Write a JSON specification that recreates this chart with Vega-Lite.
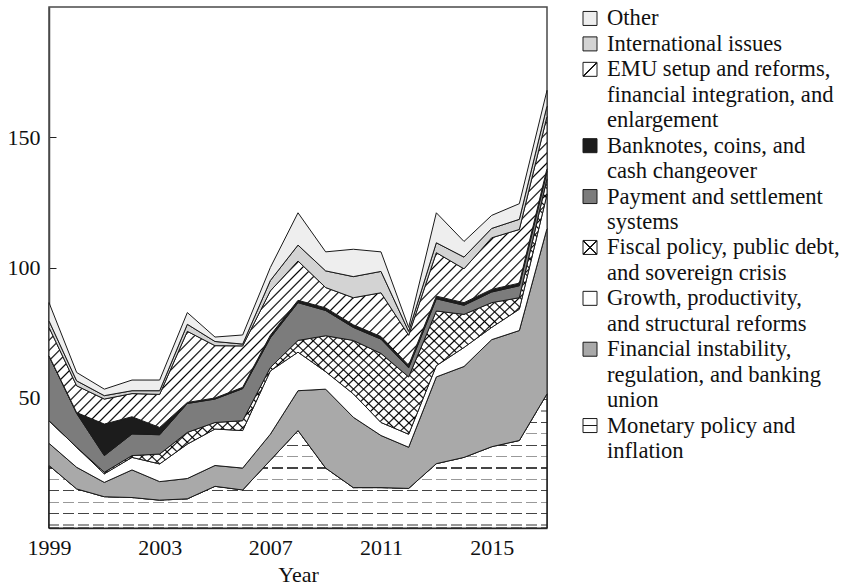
{
"$schema": "https://vega.github.io/schema/vega-lite/v6.json",
"padding": {"left": 6, "top": 6, "right": 5, "bottom": 4},
"datasets": {
"topics": [
{"year":1999,"topic":"Monetary","value":24},{"year":1999,"topic":"Financial","value":8.5},{"year":1999,"topic":"Growth","value":8.7},{"year":1999,"topic":"Fiscal","value":0},{"year":1999,"topic":"Payment","value":24.9},{"year":1999,"topic":"Banknotes","value":0},{"year":1999,"topic":"EMU","value":10.9},{"year":1999,"topic":"International","value":2.5},{"year":1999,"topic":"Other","value":7},
{"year":2000,"topic":"Monetary","value":15},{"year":2000,"topic":"Financial","value":8.3},{"year":2000,"topic":"Growth","value":7.7},{"year":2000,"topic":"Fiscal","value":0},{"year":2000,"topic":"Payment","value":13},{"year":2000,"topic":"Banknotes","value":0.3},{"year":2000,"topic":"EMU","value":10.3},{"year":2000,"topic":"International","value":1.9},{"year":2000,"topic":"Other","value":3.2},
{"year":2001,"topic":"Monetary","value":12},{"year":2001,"topic":"Financial","value":5.5},{"year":2001,"topic":"Growth","value":3.3},{"year":2001,"topic":"Fiscal","value":0.6},{"year":2001,"topic":"Payment","value":6.4},{"year":2001,"topic":"Banknotes","value":12.1},{"year":2001,"topic":"EMU","value":9.6},{"year":2001,"topic":"International","value":1.3},{"year":2001,"topic":"Other","value":2.5},
{"year":2002,"topic":"Monetary","value":11.7},{"year":2002,"topic":"Financial","value":10.6},{"year":2002,"topic":"Growth","value":4.8},{"year":2002,"topic":"Fiscal","value":0.7},{"year":2002,"topic":"Payment","value":8.3},{"year":2002,"topic":"Banknotes","value":6.6},{"year":2002,"topic":"EMU","value":8.9},{"year":2002,"topic":"International","value":1.1},{"year":2002,"topic":"Other","value":4.1},
{"year":2003,"topic":"Monetary","value":10.7},{"year":2003,"topic":"Financial","value":7.1},{"year":2003,"topic":"Growth","value":6.8},{"year":2003,"topic":"Fiscal","value":3.8},{"year":2003,"topic":"Payment","value":7.4},{"year":2003,"topic":"Banknotes","value":2.8},{"year":2003,"topic":"EMU","value":12.7},{"year":2003,"topic":"International","value":1.4},{"year":2003,"topic":"Other","value":4.1},
{"year":2004,"topic":"Monetary","value":11.2},{"year":2004,"topic":"Financial","value":7.8},{"year":2004,"topic":"Growth","value":13.2},{"year":2004,"topic":"Fiscal","value":4.5},{"year":2004,"topic":"Payment","value":11.1},{"year":2004,"topic":"Banknotes","value":0.4},{"year":2004,"topic":"EMU","value":27.3},{"year":2004,"topic":"International","value":2.7},{"year":2004,"topic":"Other","value":4.5},
{"year":2005,"topic":"Monetary","value":16},{"year":2005,"topic":"Financial","value":8},{"year":2005,"topic":"Growth","value":14},{"year":2005,"topic":"Fiscal","value":2.5},{"year":2005,"topic":"Payment","value":9},{"year":2005,"topic":"Banknotes","value":0.4},{"year":2005,"topic":"EMU","value":20.1},{"year":2005,"topic":"International","value":1.6},{"year":2005,"topic":"Other","value":1.7},
{"year":2006,"topic":"Monetary","value":14.6},{"year":2006,"topic":"Financial","value":8.4},{"year":2006,"topic":"Growth","value":14.4},{"year":2006,"topic":"Fiscal","value":3.8},{"year":2006,"topic":"Payment","value":12.3},{"year":2006,"topic":"Banknotes","value":0.5},{"year":2006,"topic":"EMU","value":15.9},{"year":2006,"topic":"International","value":0.7},{"year":2006,"topic":"Other","value":3.5},
{"year":2007,"topic":"Monetary","value":26},{"year":2007,"topic":"Financial","value":10},{"year":2007,"topic":"Growth","value":24.3},{"year":2007,"topic":"Fiscal","value":1.3},{"year":2007,"topic":"Payment","value":11.4},{"year":2007,"topic":"Banknotes","value":1},{"year":2007,"topic":"EMU","value":17},{"year":2007,"topic":"International","value":4},{"year":2007,"topic":"Other","value":5},
{"year":2008,"topic":"Monetary","value":37.4},{"year":2008,"topic":"Financial","value":15.3},{"year":2008,"topic":"Growth","value":14.8},{"year":2008,"topic":"Fiscal","value":4.5},{"year":2008,"topic":"Payment","value":14.5},{"year":2008,"topic":"Banknotes","value":0.9},{"year":2008,"topic":"EMU","value":15.1},{"year":2008,"topic":"International","value":6.1},{"year":2008,"topic":"Other","value":12.4},
{"year":2009,"topic":"Monetary","value":23},{"year":2009,"topic":"Financial","value":30.3},{"year":2009,"topic":"Growth","value":6.7},{"year":2009,"topic":"Fiscal","value":13.8},{"year":2009,"topic":"Payment","value":9.7},{"year":2009,"topic":"Banknotes","value":1},{"year":2009,"topic":"EMU","value":7.8},{"year":2009,"topic":"International","value":6.4},{"year":2009,"topic":"Other","value":7.3},
{"year":2010,"topic":"Monetary","value":15.5},{"year":2010,"topic":"Financial","value":27},{"year":2010,"topic":"Growth","value":9},{"year":2010,"topic":"Fiscal","value":20.5},{"year":2010,"topic":"Payment","value":5},{"year":2010,"topic":"Banknotes","value":1},{"year":2010,"topic":"EMU","value":10.4},{"year":2010,"topic":"International","value":8.1},{"year":2010,"topic":"Other","value":10.5},
{"year":2011,"topic":"Monetary","value":15.5},{"year":2011,"topic":"Financial","value":20},{"year":2011,"topic":"Growth","value":5},{"year":2011,"topic":"Fiscal","value":26.5},{"year":2011,"topic":"Payment","value":5.5},{"year":2011,"topic":"Banknotes","value":1},{"year":2011,"topic":"EMU","value":16.8},{"year":2011,"topic":"International","value":8.2},{"year":2011,"topic":"Other","value":7.5},
{"year":2012,"topic":"Monetary","value":15.2},{"year":2012,"topic":"Financial","value":15.8},{"year":2012,"topic":"Growth","value":5},{"year":2012,"topic":"Fiscal","value":22},{"year":2012,"topic":"Payment","value":3.5},{"year":2012,"topic":"Banknotes","value":1},{"year":2012,"topic":"EMU","value":11.5},{"year":2012,"topic":"International","value":1.5},{"year":2012,"topic":"Other","value":1.5},
{"year":2013,"topic":"Monetary","value":24.7},{"year":2013,"topic":"Financial","value":33.3},{"year":2013,"topic":"Growth","value":4.3},{"year":2013,"topic":"Fiscal","value":21},{"year":2013,"topic":"Payment","value":4.7},{"year":2013,"topic":"Banknotes","value":1},{"year":2013,"topic":"EMU","value":16.7},{"year":2013,"topic":"International","value":3.8},{"year":2013,"topic":"Other","value":11.5},
{"year":2014,"topic":"Monetary","value":27.1},{"year":2014,"topic":"Financial","value":34.9},{"year":2014,"topic":"Growth","value":7.3},{"year":2014,"topic":"Fiscal","value":12.7},{"year":2014,"topic":"Payment","value":3.5},{"year":2014,"topic":"Banknotes","value":1},{"year":2014,"topic":"EMU","value":13},{"year":2014,"topic":"International","value":4.5},{"year":2014,"topic":"Other","value":6},
{"year":2015,"topic":"Monetary","value":31.2},{"year":2015,"topic":"Financial","value":41.1},{"year":2015,"topic":"Growth","value":4.7},{"year":2015,"topic":"Fiscal","value":9.5},{"year":2015,"topic":"Payment","value":4.1},{"year":2015,"topic":"Banknotes","value":1},{"year":2015,"topic":"EMU","value":19.8},{"year":2015,"topic":"International","value":3.6},{"year":2015,"topic":"Other","value":5},
{"year":2016,"topic":"Monetary","value":33.6},{"year":2016,"topic":"Financial","value":42.2},{"year":2016,"topic":"Growth","value":8.2},{"year":2016,"topic":"Fiscal","value":4.4},{"year":2016,"topic":"Payment","value":4.6},{"year":2016,"topic":"Banknotes","value":1},{"year":2016,"topic":"EMU","value":20.6},{"year":2016,"topic":"International","value":3.9},{"year":2016,"topic":"Other","value":6},
{"year":2017,"topic":"Monetary","value":51.5},{"year":2017,"topic":"Financial","value":63.5},{"year":2017,"topic":"Growth","value":13},{"year":2017,"topic":"Fiscal","value":6},{"year":2017,"topic":"Payment","value":3},{"year":2017,"topic":"Banknotes","value":1},{"year":2017,"topic":"EMU","value":20},{"year":2017,"topic":"International","value":4},{"year":2017,"topic":"Other","value":6}
],
"legend": [
{"topic":"Other","text":"Other"},
{"topic":"International","text":"International issues"},
{"topic":"EMU","text":"EMU setup and reforms,"},
{"topic":"EMU","text":"financial integration, and"},
{"topic":"EMU","text":"enlargement"},
{"topic":"Banknotes","text":"Banknotes, coins, and"},
{"topic":"Banknotes","text":"cash changeover"},
{"topic":"Payment","text":"Payment and settlement"},
{"topic":"Payment","text":"systems"},
{"topic":"Fiscal","text":"Fiscal policy, public debt,"},
{"topic":"Fiscal","text":"and sovereign crisis"},
{"topic":"Growth","text":"Growth, productivity,"},
{"topic":"Growth","text":"and structural reforms"},
{"topic":"Financial","text":"Financial instability,"},
{"topic":"Financial","text":"regulation, and banking"},
{"topic":"Financial","text":"union"},
{"topic":"Monetary","text":"Monetary policy and"},
{"topic":"Monetary","text":"inflation"}
]
},
"hconcat": [
{
"width": 498, "height": 521,
"data": {"name": "topics"},
"transform": [
{"calculate": "indexof(['Monetary','Financial','Growth','Fiscal','Payment','Banknotes','EMU','International','Other'], datum.topic)", "as": "k"},
{"stack": "value", "groupby": ["year"], "sort": [{"field": "k", "order": "ascending"}], "as": ["v0", "v1"]}
],
"encoding": {
"x": {"field": "year", "type": "quantitative", "scale": {"domain": [1999, 2017], "nice": false, "zero": false},
 "axis": {"values": [1999, 2003, 2007, 2011, 2015], "format": "d", "title": "Year", "tickSize": -7, "labelPadding": 16, "titlePadding": 6, "labelFlush": false}},
"y": {"field": "v1", "type": "quantitative", "scale": {"domain": [0, 200], "nice": false},
 "axis": {"values": [50, 100, 150], "title": null, "tickSize": -7, "labelPadding": 16}},
"y2": {"field": "v0"}
},
"layer": [
{"transform": [{"filter": "datum.topic === 'Monetary'"}], "mark": {"type": "area", "stroke": "#1a1a1a", "strokeWidth": 1,
"fill": {"gradient": "linear", "x1": 0, "y1": 0, "x2": 0, "y2": 1, "stops": [
{"offset":0,"color":"#fff"},
{"offset":0.038,"color":"#fff"},{"offset":0.038,"color":"#444"},{"offset":0.047,"color":"#444"},{"offset":0.047,"color":"#fff"},
{"offset":0.123,"color":"#fff"},{"offset":0.123,"color":"#999"},{"offset":0.132,"color":"#999"},{"offset":0.132,"color":"#fff"},
{"offset":0.208,"color":"#fff"},{"offset":0.208,"color":"#444"},{"offset":0.217,"color":"#444"},{"offset":0.217,"color":"#fff"},
{"offset":0.293,"color":"#fff"},{"offset":0.293,"color":"#999"},{"offset":0.302,"color":"#999"},{"offset":0.302,"color":"#fff"},
{"offset":0.378,"color":"#fff"},{"offset":0.378,"color":"#444"},{"offset":0.387,"color":"#444"},{"offset":0.387,"color":"#fff"},
{"offset":0.463,"color":"#fff"},{"offset":0.463,"color":"#999"},{"offset":0.472,"color":"#999"},{"offset":0.472,"color":"#fff"},
{"offset":0.548,"color":"#fff"},{"offset":0.548,"color":"#444"},{"offset":0.557,"color":"#444"},{"offset":0.557,"color":"#fff"},
{"offset":0.633,"color":"#fff"},{"offset":0.633,"color":"#999"},{"offset":0.642,"color":"#999"},{"offset":0.642,"color":"#fff"},
{"offset":0.718,"color":"#fff"},{"offset":0.718,"color":"#444"},{"offset":0.727,"color":"#444"},{"offset":0.727,"color":"#fff"},
{"offset":0.803,"color":"#fff"},{"offset":0.803,"color":"#999"},{"offset":0.812,"color":"#999"},{"offset":0.812,"color":"#fff"},
{"offset":0.888,"color":"#fff"},{"offset":0.888,"color":"#444"},{"offset":0.897,"color":"#444"},{"offset":0.897,"color":"#fff"},
{"offset":0.973,"color":"#fff"},{"offset":0.973,"color":"#999"},{"offset":0.982,"color":"#999"},{"offset":0.982,"color":"#fff"},
{"offset":1,"color":"#fff"}
]}}},
{"transform": [{"filter": "datum.topic === 'Monetary'"}], "mark": {"type": "area", "stroke": "#1a1a1a", "strokeWidth": 1,
"fill": {"gradient": "linear", "x1": 0, "y1": 0, "x2": 1, "y2": 0, "stops": [
{"offset":0,"color":"rgba(0,0,0,0)"},
{"offset":0.02,"color":"rgba(0,0,0,0)"},{"offset":0.02,"color":"#fff"},{"offset":0.028,"color":"#fff"},{"offset":0.028,"color":"rgba(0,0,0,0)"},
{"offset":0.05,"color":"rgba(0,0,0,0)"},{"offset":0.05,"color":"#fff"},{"offset":0.058,"color":"#fff"},{"offset":0.058,"color":"rgba(0,0,0,0)"},
{"offset":0.08,"color":"rgba(0,0,0,0)"},{"offset":0.08,"color":"#fff"},{"offset":0.088,"color":"#fff"},{"offset":0.088,"color":"rgba(0,0,0,0)"},
{"offset":0.11,"color":"rgba(0,0,0,0)"},{"offset":0.11,"color":"#fff"},{"offset":0.118,"color":"#fff"},{"offset":0.118,"color":"rgba(0,0,0,0)"},
{"offset":0.14,"color":"rgba(0,0,0,0)"},{"offset":0.14,"color":"#fff"},{"offset":0.148,"color":"#fff"},{"offset":0.148,"color":"rgba(0,0,0,0)"},
{"offset":0.17,"color":"rgba(0,0,0,0)"},{"offset":0.17,"color":"#fff"},{"offset":0.178,"color":"#fff"},{"offset":0.178,"color":"rgba(0,0,0,0)"},
{"offset":0.2,"color":"rgba(0,0,0,0)"},{"offset":0.2,"color":"#fff"},{"offset":0.208,"color":"#fff"},{"offset":0.208,"color":"rgba(0,0,0,0)"},
{"offset":0.23,"color":"rgba(0,0,0,0)"},{"offset":0.23,"color":"#fff"},{"offset":0.238,"color":"#fff"},{"offset":0.238,"color":"rgba(0,0,0,0)"},
{"offset":0.26,"color":"rgba(0,0,0,0)"},{"offset":0.26,"color":"#fff"},{"offset":0.268,"color":"#fff"},{"offset":0.268,"color":"rgba(0,0,0,0)"},
{"offset":0.29,"color":"rgba(0,0,0,0)"},{"offset":0.29,"color":"#fff"},{"offset":0.298,"color":"#fff"},{"offset":0.298,"color":"rgba(0,0,0,0)"},
{"offset":0.32,"color":"rgba(0,0,0,0)"},{"offset":0.32,"color":"#fff"},{"offset":0.328,"color":"#fff"},{"offset":0.328,"color":"rgba(0,0,0,0)"},
{"offset":0.35,"color":"rgba(0,0,0,0)"},{"offset":0.35,"color":"#fff"},{"offset":0.358,"color":"#fff"},{"offset":0.358,"color":"rgba(0,0,0,0)"},
{"offset":0.38,"color":"rgba(0,0,0,0)"},{"offset":0.38,"color":"#fff"},{"offset":0.388,"color":"#fff"},{"offset":0.388,"color":"rgba(0,0,0,0)"},
{"offset":0.41,"color":"rgba(0,0,0,0)"},{"offset":0.41,"color":"#fff"},{"offset":0.418,"color":"#fff"},{"offset":0.418,"color":"rgba(0,0,0,0)"},
{"offset":0.44,"color":"rgba(0,0,0,0)"},{"offset":0.44,"color":"#fff"},{"offset":0.448,"color":"#fff"},{"offset":0.448,"color":"rgba(0,0,0,0)"},
{"offset":0.47,"color":"rgba(0,0,0,0)"},{"offset":0.47,"color":"#fff"},{"offset":0.478,"color":"#fff"},{"offset":0.478,"color":"rgba(0,0,0,0)"},
{"offset":0.5,"color":"rgba(0,0,0,0)"},{"offset":0.5,"color":"#fff"},{"offset":0.508,"color":"#fff"},{"offset":0.508,"color":"rgba(0,0,0,0)"},
{"offset":0.53,"color":"rgba(0,0,0,0)"},{"offset":0.53,"color":"#fff"},{"offset":0.538,"color":"#fff"},{"offset":0.538,"color":"rgba(0,0,0,0)"},
{"offset":0.56,"color":"rgba(0,0,0,0)"},{"offset":0.56,"color":"#fff"},{"offset":0.568,"color":"#fff"},{"offset":0.568,"color":"rgba(0,0,0,0)"},
{"offset":0.59,"color":"rgba(0,0,0,0)"},{"offset":0.59,"color":"#fff"},{"offset":0.598,"color":"#fff"},{"offset":0.598,"color":"rgba(0,0,0,0)"},
{"offset":0.62,"color":"rgba(0,0,0,0)"},{"offset":0.62,"color":"#fff"},{"offset":0.628,"color":"#fff"},{"offset":0.628,"color":"rgba(0,0,0,0)"},
{"offset":0.65,"color":"rgba(0,0,0,0)"},{"offset":0.65,"color":"#fff"},{"offset":0.658,"color":"#fff"},{"offset":0.658,"color":"rgba(0,0,0,0)"},
{"offset":0.68,"color":"rgba(0,0,0,0)"},{"offset":0.68,"color":"#fff"},{"offset":0.688,"color":"#fff"},{"offset":0.688,"color":"rgba(0,0,0,0)"},
{"offset":0.71,"color":"rgba(0,0,0,0)"},{"offset":0.71,"color":"#fff"},{"offset":0.718,"color":"#fff"},{"offset":0.718,"color":"rgba(0,0,0,0)"},
{"offset":0.74,"color":"rgba(0,0,0,0)"},{"offset":0.74,"color":"#fff"},{"offset":0.748,"color":"#fff"},{"offset":0.748,"color":"rgba(0,0,0,0)"},
{"offset":0.77,"color":"rgba(0,0,0,0)"},{"offset":0.77,"color":"#fff"},{"offset":0.778,"color":"#fff"},{"offset":0.778,"color":"rgba(0,0,0,0)"},
{"offset":0.8,"color":"rgba(0,0,0,0)"},{"offset":0.8,"color":"#fff"},{"offset":0.808,"color":"#fff"},{"offset":0.808,"color":"rgba(0,0,0,0)"},
{"offset":0.83,"color":"rgba(0,0,0,0)"},{"offset":0.83,"color":"#fff"},{"offset":0.838,"color":"#fff"},{"offset":0.838,"color":"rgba(0,0,0,0)"},
{"offset":0.86,"color":"rgba(0,0,0,0)"},{"offset":0.86,"color":"#fff"},{"offset":0.868,"color":"#fff"},{"offset":0.868,"color":"rgba(0,0,0,0)"},
{"offset":0.89,"color":"rgba(0,0,0,0)"},{"offset":0.89,"color":"#fff"},{"offset":0.898,"color":"#fff"},{"offset":0.898,"color":"rgba(0,0,0,0)"},
{"offset":0.92,"color":"rgba(0,0,0,0)"},{"offset":0.92,"color":"#fff"},{"offset":0.928,"color":"#fff"},{"offset":0.928,"color":"rgba(0,0,0,0)"},
{"offset":0.95,"color":"rgba(0,0,0,0)"},{"offset":0.95,"color":"#fff"},{"offset":0.958,"color":"#fff"},{"offset":0.958,"color":"rgba(0,0,0,0)"},
{"offset":0.98,"color":"rgba(0,0,0,0)"},{"offset":0.98,"color":"#fff"},{"offset":0.988,"color":"#fff"},{"offset":0.988,"color":"rgba(0,0,0,0)"},
{"offset":1,"color":"rgba(0,0,0,0)"}
]}}},
{"transform": [{"filter": "datum.topic === 'Financial'"}], "mark": {"type": "area", "fill": "#a9a9a9", "stroke": "#1a1a1a", "strokeWidth": 1}},
{"transform": [{"filter": "datum.topic === 'Growth'"}], "mark": {"type": "area", "fill": "#ffffff", "stroke": "#1a1a1a", "strokeWidth": 1}},
{"transform": [{"filter": "datum.topic === 'Fiscal'"}], "mark": {"type": "area", "strokeWidth": 0,
"fill": {"gradient": "linear", "x1": 0, "y1": 0, "x2": 1.171, "y2": 0.724, "stops": [
{"offset":0,"color":"#fff"},
{"offset":0.0105,"color":"#fff"},{"offset":0.0125,"color":"#000"},{"offset":0.0145,"color":"#fff"},
{"offset":0.023,"color":"#fff"},{"offset":0.025,"color":"#000"},{"offset":0.027,"color":"#fff"},
{"offset":0.0355,"color":"#fff"},{"offset":0.0375,"color":"#000"},{"offset":0.0395,"color":"#fff"},
{"offset":0.048,"color":"#fff"},{"offset":0.05,"color":"#000"},{"offset":0.052,"color":"#fff"},
{"offset":0.0605,"color":"#fff"},{"offset":0.0625,"color":"#000"},{"offset":0.0645,"color":"#fff"},
{"offset":0.073,"color":"#fff"},{"offset":0.075,"color":"#000"},{"offset":0.077,"color":"#fff"},
{"offset":0.0855,"color":"#fff"},{"offset":0.0875,"color":"#000"},{"offset":0.0895,"color":"#fff"},
{"offset":0.098,"color":"#fff"},{"offset":0.1,"color":"#000"},{"offset":0.102,"color":"#fff"},
{"offset":0.1105,"color":"#fff"},{"offset":0.1125,"color":"#000"},{"offset":0.1145,"color":"#fff"},
{"offset":0.123,"color":"#fff"},{"offset":0.125,"color":"#000"},{"offset":0.127,"color":"#fff"},
{"offset":0.1355,"color":"#fff"},{"offset":0.1375,"color":"#000"},{"offset":0.1395,"color":"#fff"},
{"offset":0.148,"color":"#fff"},{"offset":0.15,"color":"#000"},{"offset":0.152,"color":"#fff"},
{"offset":0.1605,"color":"#fff"},{"offset":0.1625,"color":"#000"},{"offset":0.1645,"color":"#fff"},
{"offset":0.173,"color":"#fff"},{"offset":0.175,"color":"#000"},{"offset":0.177,"color":"#fff"},
{"offset":0.1855,"color":"#fff"},{"offset":0.1875,"color":"#000"},{"offset":0.1895,"color":"#fff"},
{"offset":0.198,"color":"#fff"},{"offset":0.2,"color":"#000"},{"offset":0.202,"color":"#fff"},
{"offset":0.2105,"color":"#fff"},{"offset":0.2125,"color":"#000"},{"offset":0.2145,"color":"#fff"},
{"offset":0.223,"color":"#fff"},{"offset":0.225,"color":"#000"},{"offset":0.227,"color":"#fff"},
{"offset":0.2355,"color":"#fff"},{"offset":0.2375,"color":"#000"},{"offset":0.2395,"color":"#fff"},
{"offset":0.248,"color":"#fff"},{"offset":0.25,"color":"#000"},{"offset":0.252,"color":"#fff"},
{"offset":0.2605,"color":"#fff"},{"offset":0.2625,"color":"#000"},{"offset":0.2645,"color":"#fff"},
{"offset":0.273,"color":"#fff"},{"offset":0.275,"color":"#000"},{"offset":0.277,"color":"#fff"},
{"offset":0.2855,"color":"#fff"},{"offset":0.2875,"color":"#000"},{"offset":0.2895,"color":"#fff"},
{"offset":0.298,"color":"#fff"},{"offset":0.3,"color":"#000"},{"offset":0.302,"color":"#fff"},
{"offset":0.3105,"color":"#fff"},{"offset":0.3125,"color":"#000"},{"offset":0.3145,"color":"#fff"},
{"offset":0.323,"color":"#fff"},{"offset":0.325,"color":"#000"},{"offset":0.327,"color":"#fff"},
{"offset":0.3355,"color":"#fff"},{"offset":0.3375,"color":"#000"},{"offset":0.3395,"color":"#fff"},
{"offset":0.348,"color":"#fff"},{"offset":0.35,"color":"#000"},{"offset":0.352,"color":"#fff"},
{"offset":0.3605,"color":"#fff"},{"offset":0.3625,"color":"#000"},{"offset":0.3645,"color":"#fff"},
{"offset":0.373,"color":"#fff"},{"offset":0.375,"color":"#000"},{"offset":0.377,"color":"#fff"},
{"offset":0.3855,"color":"#fff"},{"offset":0.3875,"color":"#000"},{"offset":0.3895,"color":"#fff"},
{"offset":0.398,"color":"#fff"},{"offset":0.4,"color":"#000"},{"offset":0.402,"color":"#fff"},
{"offset":0.4105,"color":"#fff"},{"offset":0.4125,"color":"#000"},{"offset":0.4145,"color":"#fff"},
{"offset":0.423,"color":"#fff"},{"offset":0.425,"color":"#000"},{"offset":0.427,"color":"#fff"},
{"offset":0.4355,"color":"#fff"},{"offset":0.4375,"color":"#000"},{"offset":0.4395,"color":"#fff"},
{"offset":0.448,"color":"#fff"},{"offset":0.45,"color":"#000"},{"offset":0.452,"color":"#fff"},
{"offset":0.4605,"color":"#fff"},{"offset":0.4625,"color":"#000"},{"offset":0.4645,"color":"#fff"},
{"offset":0.473,"color":"#fff"},{"offset":0.475,"color":"#000"},{"offset":0.477,"color":"#fff"},
{"offset":0.4855,"color":"#fff"},{"offset":0.4875,"color":"#000"},{"offset":0.4895,"color":"#fff"},
{"offset":0.498,"color":"#fff"},{"offset":0.5,"color":"#000"},{"offset":0.502,"color":"#fff"},
{"offset":0.5105,"color":"#fff"},{"offset":0.5125,"color":"#000"},{"offset":0.5145,"color":"#fff"},
{"offset":0.523,"color":"#fff"},{"offset":0.525,"color":"#000"},{"offset":0.527,"color":"#fff"},
{"offset":0.5355,"color":"#fff"},{"offset":0.5375,"color":"#000"},{"offset":0.5395,"color":"#fff"},
{"offset":0.548,"color":"#fff"},{"offset":0.55,"color":"#000"},{"offset":0.552,"color":"#fff"},
{"offset":0.5605,"color":"#fff"},{"offset":0.5625,"color":"#000"},{"offset":0.5645,"color":"#fff"},
{"offset":0.573,"color":"#fff"},{"offset":0.575,"color":"#000"},{"offset":0.577,"color":"#fff"},
{"offset":0.5855,"color":"#fff"},{"offset":0.5875,"color":"#000"},{"offset":0.5895,"color":"#fff"},
{"offset":0.598,"color":"#fff"},{"offset":0.6,"color":"#000"},{"offset":0.602,"color":"#fff"},
{"offset":0.6105,"color":"#fff"},{"offset":0.6125,"color":"#000"},{"offset":0.6145,"color":"#fff"},
{"offset":0.623,"color":"#fff"},{"offset":0.625,"color":"#000"},{"offset":0.627,"color":"#fff"},
{"offset":0.6355,"color":"#fff"},{"offset":0.6375,"color":"#000"},{"offset":0.6395,"color":"#fff"},
{"offset":0.648,"color":"#fff"},{"offset":0.65,"color":"#000"},{"offset":0.652,"color":"#fff"},
{"offset":0.6605,"color":"#fff"},{"offset":0.6625,"color":"#000"},{"offset":0.6645,"color":"#fff"},
{"offset":0.673,"color":"#fff"},{"offset":0.675,"color":"#000"},{"offset":0.677,"color":"#fff"},
{"offset":0.6855,"color":"#fff"},{"offset":0.6875,"color":"#000"},{"offset":0.6895,"color":"#fff"},
{"offset":0.698,"color":"#fff"},{"offset":0.7,"color":"#000"},{"offset":0.702,"color":"#fff"},
{"offset":0.7105,"color":"#fff"},{"offset":0.7125,"color":"#000"},{"offset":0.7145,"color":"#fff"},
{"offset":0.723,"color":"#fff"},{"offset":0.725,"color":"#000"},{"offset":0.727,"color":"#fff"},
{"offset":0.7355,"color":"#fff"},{"offset":0.7375,"color":"#000"},{"offset":0.7395,"color":"#fff"},
{"offset":0.748,"color":"#fff"},{"offset":0.75,"color":"#000"},{"offset":0.752,"color":"#fff"},
{"offset":0.7605,"color":"#fff"},{"offset":0.7625,"color":"#000"},{"offset":0.7645,"color":"#fff"},
{"offset":0.773,"color":"#fff"},{"offset":0.775,"color":"#000"},{"offset":0.777,"color":"#fff"},
{"offset":0.7855,"color":"#fff"},{"offset":0.7875,"color":"#000"},{"offset":0.7895,"color":"#fff"},
{"offset":0.798,"color":"#fff"},{"offset":0.8,"color":"#000"},{"offset":0.802,"color":"#fff"},
{"offset":0.8105,"color":"#fff"},{"offset":0.8125,"color":"#000"},{"offset":0.8145,"color":"#fff"},
{"offset":0.823,"color":"#fff"},{"offset":0.825,"color":"#000"},{"offset":0.827,"color":"#fff"},
{"offset":0.8355,"color":"#fff"},{"offset":0.8375,"color":"#000"},{"offset":0.8395,"color":"#fff"},
{"offset":0.848,"color":"#fff"},{"offset":0.85,"color":"#000"},{"offset":0.852,"color":"#fff"},
{"offset":0.8605,"color":"#fff"},{"offset":0.8625,"color":"#000"},{"offset":0.8645,"color":"#fff"},
{"offset":0.873,"color":"#fff"},{"offset":0.875,"color":"#000"},{"offset":0.877,"color":"#fff"},
{"offset":0.8855,"color":"#fff"},{"offset":0.8875,"color":"#000"},{"offset":0.8895,"color":"#fff"},
{"offset":0.898,"color":"#fff"},{"offset":0.9,"color":"#000"},{"offset":0.902,"color":"#fff"},
{"offset":0.9105,"color":"#fff"},{"offset":0.9125,"color":"#000"},{"offset":0.9145,"color":"#fff"},
{"offset":0.923,"color":"#fff"},{"offset":0.925,"color":"#000"},{"offset":0.927,"color":"#fff"},
{"offset":0.9355,"color":"#fff"},{"offset":0.9375,"color":"#000"},{"offset":0.9395,"color":"#fff"},
{"offset":0.948,"color":"#fff"},{"offset":0.95,"color":"#000"},{"offset":0.952,"color":"#fff"},
{"offset":0.9605,"color":"#fff"},{"offset":0.9625,"color":"#000"},{"offset":0.9645,"color":"#fff"},
{"offset":0.973,"color":"#fff"},{"offset":0.975,"color":"#000"},{"offset":0.977,"color":"#fff"},
{"offset":0.9855,"color":"#fff"},{"offset":0.9875,"color":"#000"},{"offset":0.9895,"color":"#fff"},
{"offset":1,"color":"#fff"}
]}}},
{"transform": [{"filter": "datum.topic === 'Fiscal'"}], "mark": {"type": "area", "stroke": "#1a1a1a", "strokeWidth": 1,
"fill": {"gradient": "linear", "x1": 0, "y1": 1, "x2": 1.171, "y2": 0.276, "stops": [
{"offset":0,"color":"rgba(0,0,0,0)"},
{"offset":0.0105,"color":"rgba(0,0,0,0)"},{"offset":0.0125,"color":"#000"},{"offset":0.0145,"color":"rgba(0,0,0,0)"},
{"offset":0.023,"color":"rgba(0,0,0,0)"},{"offset":0.025,"color":"#000"},{"offset":0.027,"color":"rgba(0,0,0,0)"},
{"offset":0.0355,"color":"rgba(0,0,0,0)"},{"offset":0.0375,"color":"#000"},{"offset":0.0395,"color":"rgba(0,0,0,0)"},
{"offset":0.048,"color":"rgba(0,0,0,0)"},{"offset":0.05,"color":"#000"},{"offset":0.052,"color":"rgba(0,0,0,0)"},
{"offset":0.0605,"color":"rgba(0,0,0,0)"},{"offset":0.0625,"color":"#000"},{"offset":0.0645,"color":"rgba(0,0,0,0)"},
{"offset":0.073,"color":"rgba(0,0,0,0)"},{"offset":0.075,"color":"#000"},{"offset":0.077,"color":"rgba(0,0,0,0)"},
{"offset":0.0855,"color":"rgba(0,0,0,0)"},{"offset":0.0875,"color":"#000"},{"offset":0.0895,"color":"rgba(0,0,0,0)"},
{"offset":0.098,"color":"rgba(0,0,0,0)"},{"offset":0.1,"color":"#000"},{"offset":0.102,"color":"rgba(0,0,0,0)"},
{"offset":0.1105,"color":"rgba(0,0,0,0)"},{"offset":0.1125,"color":"#000"},{"offset":0.1145,"color":"rgba(0,0,0,0)"},
{"offset":0.123,"color":"rgba(0,0,0,0)"},{"offset":0.125,"color":"#000"},{"offset":0.127,"color":"rgba(0,0,0,0)"},
{"offset":0.1355,"color":"rgba(0,0,0,0)"},{"offset":0.1375,"color":"#000"},{"offset":0.1395,"color":"rgba(0,0,0,0)"},
{"offset":0.148,"color":"rgba(0,0,0,0)"},{"offset":0.15,"color":"#000"},{"offset":0.152,"color":"rgba(0,0,0,0)"},
{"offset":0.1605,"color":"rgba(0,0,0,0)"},{"offset":0.1625,"color":"#000"},{"offset":0.1645,"color":"rgba(0,0,0,0)"},
{"offset":0.173,"color":"rgba(0,0,0,0)"},{"offset":0.175,"color":"#000"},{"offset":0.177,"color":"rgba(0,0,0,0)"},
{"offset":0.1855,"color":"rgba(0,0,0,0)"},{"offset":0.1875,"color":"#000"},{"offset":0.1895,"color":"rgba(0,0,0,0)"},
{"offset":0.198,"color":"rgba(0,0,0,0)"},{"offset":0.2,"color":"#000"},{"offset":0.202,"color":"rgba(0,0,0,0)"},
{"offset":0.2105,"color":"rgba(0,0,0,0)"},{"offset":0.2125,"color":"#000"},{"offset":0.2145,"color":"rgba(0,0,0,0)"},
{"offset":0.223,"color":"rgba(0,0,0,0)"},{"offset":0.225,"color":"#000"},{"offset":0.227,"color":"rgba(0,0,0,0)"},
{"offset":0.2355,"color":"rgba(0,0,0,0)"},{"offset":0.2375,"color":"#000"},{"offset":0.2395,"color":"rgba(0,0,0,0)"},
{"offset":0.248,"color":"rgba(0,0,0,0)"},{"offset":0.25,"color":"#000"},{"offset":0.252,"color":"rgba(0,0,0,0)"},
{"offset":0.2605,"color":"rgba(0,0,0,0)"},{"offset":0.2625,"color":"#000"},{"offset":0.2645,"color":"rgba(0,0,0,0)"},
{"offset":0.273,"color":"rgba(0,0,0,0)"},{"offset":0.275,"color":"#000"},{"offset":0.277,"color":"rgba(0,0,0,0)"},
{"offset":0.2855,"color":"rgba(0,0,0,0)"},{"offset":0.2875,"color":"#000"},{"offset":0.2895,"color":"rgba(0,0,0,0)"},
{"offset":0.298,"color":"rgba(0,0,0,0)"},{"offset":0.3,"color":"#000"},{"offset":0.302,"color":"rgba(0,0,0,0)"},
{"offset":0.3105,"color":"rgba(0,0,0,0)"},{"offset":0.3125,"color":"#000"},{"offset":0.3145,"color":"rgba(0,0,0,0)"},
{"offset":0.323,"color":"rgba(0,0,0,0)"},{"offset":0.325,"color":"#000"},{"offset":0.327,"color":"rgba(0,0,0,0)"},
{"offset":0.3355,"color":"rgba(0,0,0,0)"},{"offset":0.3375,"color":"#000"},{"offset":0.3395,"color":"rgba(0,0,0,0)"},
{"offset":0.348,"color":"rgba(0,0,0,0)"},{"offset":0.35,"color":"#000"},{"offset":0.352,"color":"rgba(0,0,0,0)"},
{"offset":0.3605,"color":"rgba(0,0,0,0)"},{"offset":0.3625,"color":"#000"},{"offset":0.3645,"color":"rgba(0,0,0,0)"},
{"offset":0.373,"color":"rgba(0,0,0,0)"},{"offset":0.375,"color":"#000"},{"offset":0.377,"color":"rgba(0,0,0,0)"},
{"offset":0.3855,"color":"rgba(0,0,0,0)"},{"offset":0.3875,"color":"#000"},{"offset":0.3895,"color":"rgba(0,0,0,0)"},
{"offset":0.398,"color":"rgba(0,0,0,0)"},{"offset":0.4,"color":"#000"},{"offset":0.402,"color":"rgba(0,0,0,0)"},
{"offset":0.4105,"color":"rgba(0,0,0,0)"},{"offset":0.4125,"color":"#000"},{"offset":0.4145,"color":"rgba(0,0,0,0)"},
{"offset":0.423,"color":"rgba(0,0,0,0)"},{"offset":0.425,"color":"#000"},{"offset":0.427,"color":"rgba(0,0,0,0)"},
{"offset":0.4355,"color":"rgba(0,0,0,0)"},{"offset":0.4375,"color":"#000"},{"offset":0.4395,"color":"rgba(0,0,0,0)"},
{"offset":0.448,"color":"rgba(0,0,0,0)"},{"offset":0.45,"color":"#000"},{"offset":0.452,"color":"rgba(0,0,0,0)"},
{"offset":0.4605,"color":"rgba(0,0,0,0)"},{"offset":0.4625,"color":"#000"},{"offset":0.4645,"color":"rgba(0,0,0,0)"},
{"offset":0.473,"color":"rgba(0,0,0,0)"},{"offset":0.475,"color":"#000"},{"offset":0.477,"color":"rgba(0,0,0,0)"},
{"offset":0.4855,"color":"rgba(0,0,0,0)"},{"offset":0.4875,"color":"#000"},{"offset":0.4895,"color":"rgba(0,0,0,0)"},
{"offset":0.498,"color":"rgba(0,0,0,0)"},{"offset":0.5,"color":"#000"},{"offset":0.502,"color":"rgba(0,0,0,0)"},
{"offset":0.5105,"color":"rgba(0,0,0,0)"},{"offset":0.5125,"color":"#000"},{"offset":0.5145,"color":"rgba(0,0,0,0)"},
{"offset":0.523,"color":"rgba(0,0,0,0)"},{"offset":0.525,"color":"#000"},{"offset":0.527,"color":"rgba(0,0,0,0)"},
{"offset":0.5355,"color":"rgba(0,0,0,0)"},{"offset":0.5375,"color":"#000"},{"offset":0.5395,"color":"rgba(0,0,0,0)"},
{"offset":0.548,"color":"rgba(0,0,0,0)"},{"offset":0.55,"color":"#000"},{"offset":0.552,"color":"rgba(0,0,0,0)"},
{"offset":0.5605,"color":"rgba(0,0,0,0)"},{"offset":0.5625,"color":"#000"},{"offset":0.5645,"color":"rgba(0,0,0,0)"},
{"offset":0.573,"color":"rgba(0,0,0,0)"},{"offset":0.575,"color":"#000"},{"offset":0.577,"color":"rgba(0,0,0,0)"},
{"offset":0.5855,"color":"rgba(0,0,0,0)"},{"offset":0.5875,"color":"#000"},{"offset":0.5895,"color":"rgba(0,0,0,0)"},
{"offset":0.598,"color":"rgba(0,0,0,0)"},{"offset":0.6,"color":"#000"},{"offset":0.602,"color":"rgba(0,0,0,0)"},
{"offset":0.6105,"color":"rgba(0,0,0,0)"},{"offset":0.6125,"color":"#000"},{"offset":0.6145,"color":"rgba(0,0,0,0)"},
{"offset":0.623,"color":"rgba(0,0,0,0)"},{"offset":0.625,"color":"#000"},{"offset":0.627,"color":"rgba(0,0,0,0)"},
{"offset":0.6355,"color":"rgba(0,0,0,0)"},{"offset":0.6375,"color":"#000"},{"offset":0.6395,"color":"rgba(0,0,0,0)"},
{"offset":0.648,"color":"rgba(0,0,0,0)"},{"offset":0.65,"color":"#000"},{"offset":0.652,"color":"rgba(0,0,0,0)"},
{"offset":0.6605,"color":"rgba(0,0,0,0)"},{"offset":0.6625,"color":"#000"},{"offset":0.6645,"color":"rgba(0,0,0,0)"},
{"offset":0.673,"color":"rgba(0,0,0,0)"},{"offset":0.675,"color":"#000"},{"offset":0.677,"color":"rgba(0,0,0,0)"},
{"offset":0.6855,"color":"rgba(0,0,0,0)"},{"offset":0.6875,"color":"#000"},{"offset":0.6895,"color":"rgba(0,0,0,0)"},
{"offset":0.698,"color":"rgba(0,0,0,0)"},{"offset":0.7,"color":"#000"},{"offset":0.702,"color":"rgba(0,0,0,0)"},
{"offset":0.7105,"color":"rgba(0,0,0,0)"},{"offset":0.7125,"color":"#000"},{"offset":0.7145,"color":"rgba(0,0,0,0)"},
{"offset":0.723,"color":"rgba(0,0,0,0)"},{"offset":0.725,"color":"#000"},{"offset":0.727,"color":"rgba(0,0,0,0)"},
{"offset":0.7355,"color":"rgba(0,0,0,0)"},{"offset":0.7375,"color":"#000"},{"offset":0.7395,"color":"rgba(0,0,0,0)"},
{"offset":0.748,"color":"rgba(0,0,0,0)"},{"offset":0.75,"color":"#000"},{"offset":0.752,"color":"rgba(0,0,0,0)"},
{"offset":0.7605,"color":"rgba(0,0,0,0)"},{"offset":0.7625,"color":"#000"},{"offset":0.7645,"color":"rgba(0,0,0,0)"},
{"offset":0.773,"color":"rgba(0,0,0,0)"},{"offset":0.775,"color":"#000"},{"offset":0.777,"color":"rgba(0,0,0,0)"},
{"offset":0.7855,"color":"rgba(0,0,0,0)"},{"offset":0.7875,"color":"#000"},{"offset":0.7895,"color":"rgba(0,0,0,0)"},
{"offset":0.798,"color":"rgba(0,0,0,0)"},{"offset":0.8,"color":"#000"},{"offset":0.802,"color":"rgba(0,0,0,0)"},
{"offset":0.8105,"color":"rgba(0,0,0,0)"},{"offset":0.8125,"color":"#000"},{"offset":0.8145,"color":"rgba(0,0,0,0)"},
{"offset":0.823,"color":"rgba(0,0,0,0)"},{"offset":0.825,"color":"#000"},{"offset":0.827,"color":"rgba(0,0,0,0)"},
{"offset":0.8355,"color":"rgba(0,0,0,0)"},{"offset":0.8375,"color":"#000"},{"offset":0.8395,"color":"rgba(0,0,0,0)"},
{"offset":0.848,"color":"rgba(0,0,0,0)"},{"offset":0.85,"color":"#000"},{"offset":0.852,"color":"rgba(0,0,0,0)"},
{"offset":0.8605,"color":"rgba(0,0,0,0)"},{"offset":0.8625,"color":"#000"},{"offset":0.8645,"color":"rgba(0,0,0,0)"},
{"offset":0.873,"color":"rgba(0,0,0,0)"},{"offset":0.875,"color":"#000"},{"offset":0.877,"color":"rgba(0,0,0,0)"},
{"offset":0.8855,"color":"rgba(0,0,0,0)"},{"offset":0.8875,"color":"#000"},{"offset":0.8895,"color":"rgba(0,0,0,0)"},
{"offset":0.898,"color":"rgba(0,0,0,0)"},{"offset":0.9,"color":"#000"},{"offset":0.902,"color":"rgba(0,0,0,0)"},
{"offset":0.9105,"color":"rgba(0,0,0,0)"},{"offset":0.9125,"color":"#000"},{"offset":0.9145,"color":"rgba(0,0,0,0)"},
{"offset":0.923,"color":"rgba(0,0,0,0)"},{"offset":0.925,"color":"#000"},{"offset":0.927,"color":"rgba(0,0,0,0)"},
{"offset":0.9355,"color":"rgba(0,0,0,0)"},{"offset":0.9375,"color":"#000"},{"offset":0.9395,"color":"rgba(0,0,0,0)"},
{"offset":0.948,"color":"rgba(0,0,0,0)"},{"offset":0.95,"color":"#000"},{"offset":0.952,"color":"rgba(0,0,0,0)"},
{"offset":0.9605,"color":"rgba(0,0,0,0)"},{"offset":0.9625,"color":"#000"},{"offset":0.9645,"color":"rgba(0,0,0,0)"},
{"offset":0.973,"color":"rgba(0,0,0,0)"},{"offset":0.975,"color":"#000"},{"offset":0.977,"color":"rgba(0,0,0,0)"},
{"offset":0.9855,"color":"rgba(0,0,0,0)"},{"offset":0.9875,"color":"#000"},{"offset":0.9895,"color":"rgba(0,0,0,0)"},
{"offset":1,"color":"rgba(0,0,0,0)"}
]}}},
{"transform": [{"filter": "datum.topic === 'Payment'"}], "mark": {"type": "area", "fill": "#7c7c7c", "stroke": "#1a1a1a", "strokeWidth": 1}},
{"transform": [{"filter": "datum.topic === 'Banknotes'"}], "mark": {"type": "area", "fill": "#1c1c1c", "stroke": "#1a1a1a", "strokeWidth": 1}},
{"transform": [{"filter": "datum.topic === 'EMU'"}], "mark": {"type": "area", "stroke": "#1a1a1a", "strokeWidth": 1,
"fill": {"gradient": "linear", "x1": 0, "y1": 0, "x2": 1.171, "y2": 0.724, "stops": [
{"offset":0,"color":"#fff"},
{"offset":0.0105,"color":"#fff"},{"offset":0.0125,"color":"#000"},{"offset":0.0145,"color":"#fff"},
{"offset":0.023,"color":"#fff"},{"offset":0.025,"color":"#000"},{"offset":0.027,"color":"#fff"},
{"offset":0.0355,"color":"#fff"},{"offset":0.0375,"color":"#000"},{"offset":0.0395,"color":"#fff"},
{"offset":0.048,"color":"#fff"},{"offset":0.05,"color":"#000"},{"offset":0.052,"color":"#fff"},
{"offset":0.0605,"color":"#fff"},{"offset":0.0625,"color":"#000"},{"offset":0.0645,"color":"#fff"},
{"offset":0.073,"color":"#fff"},{"offset":0.075,"color":"#000"},{"offset":0.077,"color":"#fff"},
{"offset":0.0855,"color":"#fff"},{"offset":0.0875,"color":"#000"},{"offset":0.0895,"color":"#fff"},
{"offset":0.098,"color":"#fff"},{"offset":0.1,"color":"#000"},{"offset":0.102,"color":"#fff"},
{"offset":0.1105,"color":"#fff"},{"offset":0.1125,"color":"#000"},{"offset":0.1145,"color":"#fff"},
{"offset":0.123,"color":"#fff"},{"offset":0.125,"color":"#000"},{"offset":0.127,"color":"#fff"},
{"offset":0.1355,"color":"#fff"},{"offset":0.1375,"color":"#000"},{"offset":0.1395,"color":"#fff"},
{"offset":0.148,"color":"#fff"},{"offset":0.15,"color":"#000"},{"offset":0.152,"color":"#fff"},
{"offset":0.1605,"color":"#fff"},{"offset":0.1625,"color":"#000"},{"offset":0.1645,"color":"#fff"},
{"offset":0.173,"color":"#fff"},{"offset":0.175,"color":"#000"},{"offset":0.177,"color":"#fff"},
{"offset":0.1855,"color":"#fff"},{"offset":0.1875,"color":"#000"},{"offset":0.1895,"color":"#fff"},
{"offset":0.198,"color":"#fff"},{"offset":0.2,"color":"#000"},{"offset":0.202,"color":"#fff"},
{"offset":0.2105,"color":"#fff"},{"offset":0.2125,"color":"#000"},{"offset":0.2145,"color":"#fff"},
{"offset":0.223,"color":"#fff"},{"offset":0.225,"color":"#000"},{"offset":0.227,"color":"#fff"},
{"offset":0.2355,"color":"#fff"},{"offset":0.2375,"color":"#000"},{"offset":0.2395,"color":"#fff"},
{"offset":0.248,"color":"#fff"},{"offset":0.25,"color":"#000"},{"offset":0.252,"color":"#fff"},
{"offset":0.2605,"color":"#fff"},{"offset":0.2625,"color":"#000"},{"offset":0.2645,"color":"#fff"},
{"offset":0.273,"color":"#fff"},{"offset":0.275,"color":"#000"},{"offset":0.277,"color":"#fff"},
{"offset":0.2855,"color":"#fff"},{"offset":0.2875,"color":"#000"},{"offset":0.2895,"color":"#fff"},
{"offset":0.298,"color":"#fff"},{"offset":0.3,"color":"#000"},{"offset":0.302,"color":"#fff"},
{"offset":0.3105,"color":"#fff"},{"offset":0.3125,"color":"#000"},{"offset":0.3145,"color":"#fff"},
{"offset":0.323,"color":"#fff"},{"offset":0.325,"color":"#000"},{"offset":0.327,"color":"#fff"},
{"offset":0.3355,"color":"#fff"},{"offset":0.3375,"color":"#000"},{"offset":0.3395,"color":"#fff"},
{"offset":0.348,"color":"#fff"},{"offset":0.35,"color":"#000"},{"offset":0.352,"color":"#fff"},
{"offset":0.3605,"color":"#fff"},{"offset":0.3625,"color":"#000"},{"offset":0.3645,"color":"#fff"},
{"offset":0.373,"color":"#fff"},{"offset":0.375,"color":"#000"},{"offset":0.377,"color":"#fff"},
{"offset":0.3855,"color":"#fff"},{"offset":0.3875,"color":"#000"},{"offset":0.3895,"color":"#fff"},
{"offset":0.398,"color":"#fff"},{"offset":0.4,"color":"#000"},{"offset":0.402,"color":"#fff"},
{"offset":0.4105,"color":"#fff"},{"offset":0.4125,"color":"#000"},{"offset":0.4145,"color":"#fff"},
{"offset":0.423,"color":"#fff"},{"offset":0.425,"color":"#000"},{"offset":0.427,"color":"#fff"},
{"offset":0.4355,"color":"#fff"},{"offset":0.4375,"color":"#000"},{"offset":0.4395,"color":"#fff"},
{"offset":0.448,"color":"#fff"},{"offset":0.45,"color":"#000"},{"offset":0.452,"color":"#fff"},
{"offset":0.4605,"color":"#fff"},{"offset":0.4625,"color":"#000"},{"offset":0.4645,"color":"#fff"},
{"offset":0.473,"color":"#fff"},{"offset":0.475,"color":"#000"},{"offset":0.477,"color":"#fff"},
{"offset":0.4855,"color":"#fff"},{"offset":0.4875,"color":"#000"},{"offset":0.4895,"color":"#fff"},
{"offset":0.498,"color":"#fff"},{"offset":0.5,"color":"#000"},{"offset":0.502,"color":"#fff"},
{"offset":0.5105,"color":"#fff"},{"offset":0.5125,"color":"#000"},{"offset":0.5145,"color":"#fff"},
{"offset":0.523,"color":"#fff"},{"offset":0.525,"color":"#000"},{"offset":0.527,"color":"#fff"},
{"offset":0.5355,"color":"#fff"},{"offset":0.5375,"color":"#000"},{"offset":0.5395,"color":"#fff"},
{"offset":0.548,"color":"#fff"},{"offset":0.55,"color":"#000"},{"offset":0.552,"color":"#fff"},
{"offset":0.5605,"color":"#fff"},{"offset":0.5625,"color":"#000"},{"offset":0.5645,"color":"#fff"},
{"offset":0.573,"color":"#fff"},{"offset":0.575,"color":"#000"},{"offset":0.577,"color":"#fff"},
{"offset":0.5855,"color":"#fff"},{"offset":0.5875,"color":"#000"},{"offset":0.5895,"color":"#fff"},
{"offset":0.598,"color":"#fff"},{"offset":0.6,"color":"#000"},{"offset":0.602,"color":"#fff"},
{"offset":0.6105,"color":"#fff"},{"offset":0.6125,"color":"#000"},{"offset":0.6145,"color":"#fff"},
{"offset":0.623,"color":"#fff"},{"offset":0.625,"color":"#000"},{"offset":0.627,"color":"#fff"},
{"offset":0.6355,"color":"#fff"},{"offset":0.6375,"color":"#000"},{"offset":0.6395,"color":"#fff"},
{"offset":0.648,"color":"#fff"},{"offset":0.65,"color":"#000"},{"offset":0.652,"color":"#fff"},
{"offset":0.6605,"color":"#fff"},{"offset":0.6625,"color":"#000"},{"offset":0.6645,"color":"#fff"},
{"offset":0.673,"color":"#fff"},{"offset":0.675,"color":"#000"},{"offset":0.677,"color":"#fff"},
{"offset":0.6855,"color":"#fff"},{"offset":0.6875,"color":"#000"},{"offset":0.6895,"color":"#fff"},
{"offset":0.698,"color":"#fff"},{"offset":0.7,"color":"#000"},{"offset":0.702,"color":"#fff"},
{"offset":0.7105,"color":"#fff"},{"offset":0.7125,"color":"#000"},{"offset":0.7145,"color":"#fff"},
{"offset":0.723,"color":"#fff"},{"offset":0.725,"color":"#000"},{"offset":0.727,"color":"#fff"},
{"offset":0.7355,"color":"#fff"},{"offset":0.7375,"color":"#000"},{"offset":0.7395,"color":"#fff"},
{"offset":0.748,"color":"#fff"},{"offset":0.75,"color":"#000"},{"offset":0.752,"color":"#fff"},
{"offset":0.7605,"color":"#fff"},{"offset":0.7625,"color":"#000"},{"offset":0.7645,"color":"#fff"},
{"offset":0.773,"color":"#fff"},{"offset":0.775,"color":"#000"},{"offset":0.777,"color":"#fff"},
{"offset":0.7855,"color":"#fff"},{"offset":0.7875,"color":"#000"},{"offset":0.7895,"color":"#fff"},
{"offset":0.798,"color":"#fff"},{"offset":0.8,"color":"#000"},{"offset":0.802,"color":"#fff"},
{"offset":0.8105,"color":"#fff"},{"offset":0.8125,"color":"#000"},{"offset":0.8145,"color":"#fff"},
{"offset":0.823,"color":"#fff"},{"offset":0.825,"color":"#000"},{"offset":0.827,"color":"#fff"},
{"offset":0.8355,"color":"#fff"},{"offset":0.8375,"color":"#000"},{"offset":0.8395,"color":"#fff"},
{"offset":0.848,"color":"#fff"},{"offset":0.85,"color":"#000"},{"offset":0.852,"color":"#fff"},
{"offset":0.8605,"color":"#fff"},{"offset":0.8625,"color":"#000"},{"offset":0.8645,"color":"#fff"},
{"offset":0.873,"color":"#fff"},{"offset":0.875,"color":"#000"},{"offset":0.877,"color":"#fff"},
{"offset":0.8855,"color":"#fff"},{"offset":0.8875,"color":"#000"},{"offset":0.8895,"color":"#fff"},
{"offset":0.898,"color":"#fff"},{"offset":0.9,"color":"#000"},{"offset":0.902,"color":"#fff"},
{"offset":0.9105,"color":"#fff"},{"offset":0.9125,"color":"#000"},{"offset":0.9145,"color":"#fff"},
{"offset":0.923,"color":"#fff"},{"offset":0.925,"color":"#000"},{"offset":0.927,"color":"#fff"},
{"offset":0.9355,"color":"#fff"},{"offset":0.9375,"color":"#000"},{"offset":0.9395,"color":"#fff"},
{"offset":0.948,"color":"#fff"},{"offset":0.95,"color":"#000"},{"offset":0.952,"color":"#fff"},
{"offset":0.9605,"color":"#fff"},{"offset":0.9625,"color":"#000"},{"offset":0.9645,"color":"#fff"},
{"offset":0.973,"color":"#fff"},{"offset":0.975,"color":"#000"},{"offset":0.977,"color":"#fff"},
{"offset":0.9855,"color":"#fff"},{"offset":0.9875,"color":"#000"},{"offset":0.9895,"color":"#fff"},
{"offset":1,"color":"#fff"}
]}}},
{"transform": [{"filter": "datum.topic === 'International'"}], "mark": {"type": "area", "fill": "#d3d3d3", "stroke": "#1a1a1a", "strokeWidth": 1}},
{"transform": [{"filter": "datum.topic === 'Other'"}], "mark": {"type": "area", "fill": "#eeeeee", "stroke": "#1a1a1a", "strokeWidth": 1}}
]
},
{
"width": 250, "height": 458,
"view": {"stroke": null},
"data": {"name": "legend"},
"transform": [{"window": [{"op": "row_number", "as": "line"}]}],
"encoding": {
"y": {"field": "line", "type": "quantitative", "scale": {"domain": [0.55, 18.55], "reverse": true, "nice": false, "zero": false}, "axis": null},
"x": {"datum": 0, "type": "quantitative", "scale": {"domain": [0, 10], "nice": false, "zero": false}, "axis": null}
},
"layer": [
{"mark": {"type": "text", "align": "left", "baseline": "middle", "dx": 17, "font": "Liberation Serif", "fontSize": 22.6, "color": "#111"}, "encoding": {"text": {"field": "text"}}},
{"transform": [{"window": [{"op": "row_number", "as": "sub"}], "groupby": ["topic"]}, {"filter": "datum.sub === 1"}],
 "mark": {"type": "point", "shape": "square", "size": 196, "filled": true, "opacity": 1, "stroke": "#1a1a1a", "strokeWidth": 1},
 "encoding": {"fill": {"field": "topic", "type": "nominal", "legend": null, "scale": {"domain": ["Other","International","EMU","Banknotes","Payment","Fiscal","Growth","Financial","Monetary"], "range": ["#eeeeee","#d3d3d3","#ffffff","#1c1c1c","#7c7c7c","#ffffff","#ffffff","#a9a9a9","#ffffff"]}}}},
{"transform": [{"window": [{"op": "row_number", "as": "sub"}], "groupby": ["topic"]}, {"filter": "datum.sub === 1 && (datum.topic === 'EMU' || datum.topic === 'Fiscal')"}],
 "mark": {"type": "point", "shape": "square", "size": 196, "filled": true, "opacity": 1, "strokeWidth": 0,
  "fill": {"gradient": "linear", "x1": 0, "y1": 0, "x2": 1, "y2": 1, "stops": [{"offset":0,"color":"rgba(0,0,0,0)"},{"offset":0.465,"color":"rgba(0,0,0,0)"},{"offset":0.465,"color":"#1a1a1a"},{"offset":0.535,"color":"#1a1a1a"},{"offset":0.535,"color":"rgba(0,0,0,0)"},{"offset":1,"color":"rgba(0,0,0,0)"}]}}},
{"transform": [{"window": [{"op": "row_number", "as": "sub"}], "groupby": ["topic"]}, {"filter": "datum.sub === 1 && datum.topic === 'Fiscal'"}],
 "mark": {"type": "point", "shape": "square", "size": 196, "filled": true, "opacity": 1, "strokeWidth": 0,
  "fill": {"gradient": "linear", "x1": 0, "y1": 1, "x2": 1, "y2": 0, "stops": [{"offset":0,"color":"rgba(0,0,0,0)"},{"offset":0.465,"color":"rgba(0,0,0,0)"},{"offset":0.465,"color":"#1a1a1a"},{"offset":0.535,"color":"#1a1a1a"},{"offset":0.535,"color":"rgba(0,0,0,0)"},{"offset":1,"color":"rgba(0,0,0,0)"}]}}},
{"transform": [{"window": [{"op": "row_number", "as": "sub"}], "groupby": ["topic"]}, {"filter": "datum.sub === 1 && datum.topic === 'Monetary'"}],
 "mark": {"type": "point", "shape": "square", "size": 196, "filled": true, "opacity": 1, "strokeWidth": 0,
  "fill": {"gradient": "linear", "x1": 0, "y1": 0, "x2": 0, "y2": 1, "stops": [{"offset":0,"color":"rgba(0,0,0,0)"},{"offset":0.45,"color":"rgba(0,0,0,0)"},{"offset":0.45,"color":"#1a1a1a"},{"offset":0.55,"color":"#1a1a1a"},{"offset":0.55,"color":"rgba(0,0,0,0)"},{"offset":1,"color":"rgba(0,0,0,0)"}]}}}
]
}
],
"config": {
"font": "Liberation Serif",
"view": {"stroke": "#4a4a4a", "strokeWidth": 1.5},
"concat": {"spacing": 31},
"axis": {"labelFont": "Liberation Serif", "labelFontSize": 22, "labelColor": "#111", "titleFont": "Liberation Serif", "titleFontSize": 22, "titleFontWeight": "normal", "titleColor": "#111", "domainColor": "#4a4a4a", "domainWidth": 1.5, "tickColor": "#222", "tickWidth": 1, "grid": false, "zindex": 1}
}
}
